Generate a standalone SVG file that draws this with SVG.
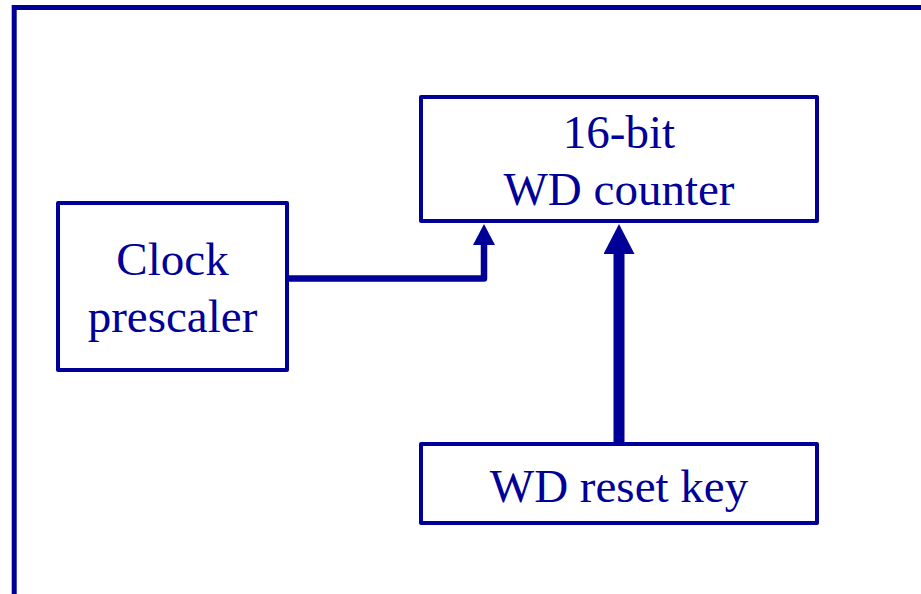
<svg xmlns="http://www.w3.org/2000/svg" width="921" height="594" viewBox="0 0 921 594">
<style>
.box{fill:#fff;stroke:#000099;stroke-width:4;stroke-linejoin:round}
.lbl{font-family:"Liberation Serif","Times New Roman",serif;font-size:47px;fill:#000099;text-anchor:middle}
.wire{fill:none;stroke:#000099;stroke-linejoin:round}
</style>
<defs>
<marker id="ah1" viewBox="0 -11 21 22" markerWidth="21" markerHeight="22" refX="1" refY="0" orient="auto" markerUnits="userSpaceOnUse"><path d="M0,-11 L21,0 L0,11 z" fill="#000099"/></marker>
<marker id="ah2" viewBox="0 -15.5 30 31" markerWidth="30" markerHeight="31" refX="1" refY="0" orient="auto" markerUnits="userSpaceOnUse"><path d="M0,-15.5 L30,0 L0,15.5 z" fill="#000099"/></marker>
</defs>
<rect width="921" height="594" fill="#fff"/>
<path d="M14.2,594 V7.5 H921" fill="none" stroke="#000099" stroke-width="5"/>
<g id="counter">
<rect class="box" x="421" y="97" width="396" height="124"/>
<text class="lbl" x="619" y="148">16-bit</text>
<text class="lbl" x="619" y="205">WD counter</text>
</g>
<g id="prescaler">
<rect class="box" x="58" y="203" width="229" height="167"/>
<text class="lbl" x="172.5" y="275">Clock</text>
<text class="lbl" x="172.5" y="332">prescaler</text>
</g>
<g id="resetkey">
<rect class="box" x="421" y="444" width="396" height="79"/>
<text class="lbl" x="619" y="502">WD reset key</text>
</g>
<g id="connectors">
<path class="wire" d="M287,278.5 H484 V244" stroke-width="6.5" marker-end="url(#ah1)"/>
<path class="wire" d="M619,444 V253" stroke-width="11" marker-end="url(#ah2)"/>
</g>
</svg>
